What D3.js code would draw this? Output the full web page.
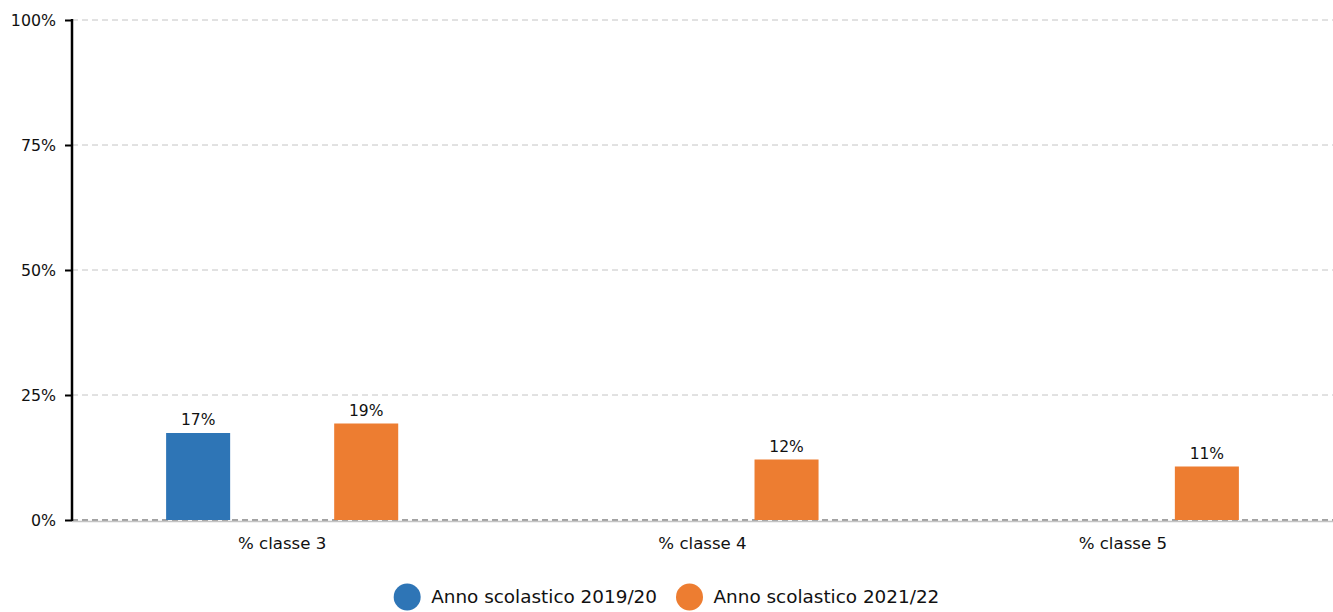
<!DOCTYPE html>
<html>
<head>
<meta charset="utf-8">
<script src="https://cdn.jsdelivr.net/npm/d3@7"></script>
<style>
  body { margin: 0; background: #fff; }
  svg { display: block; font-family: "DejaVu Sans", sans-serif; }
</style>
</head>
<body>
<svg id="chart" width="1333" height="612"></svg>
<script>
// data
let categories = ["% classe 3", "% classe 4", "% classe 5"];
let seriesNames = ["Anno scolastico 2019/20", "Anno scolastico 2021/22"];
let series2019 = [17.4, null, null];
let series2021 = [19.3, 12.1, 10.7];
let yTicks = [0, 25, 50, 75, 100];
let colors = ["#2E75B6", "#ED7D31"];

let width = 1333,
    height = 612,
    margin = {top: 20, right: 0, bottom: 92, left: 72};

let svg = d3.select("#chart");

let x0 = d3.scaleBand()
  .domain(categories)
  .range([margin.left, width - margin.right]);

let x1 = d3.scaleBand()
  .domain(seriesNames)
  .range([0, x0.bandwidth()])
  .paddingInner(0.619)
  .paddingOuter(0.56);

let y = d3.scaleLinear()
  .domain([0, 100])
  .range([height - margin.bottom, margin.top]);

let fmt = v => d3.format(".0f")(v) + "%";
let textColor = "#111";

// gridlines
svg.append("g")
  .selectAll("line")
  .data(yTicks)
  .join("line")
    .attr("x1", margin.left)
    .attr("x2", width - margin.right)
    .attr("y1", d => y(d))
    .attr("y2", d => y(d))
    .attr("stroke", d => d === 0 ? "#444" : "#c4c4c4")
    .attr("stroke-width", 1)
    .attr("stroke-dasharray", "6,4");

// bottom axis line (light)
svg.append("line")
  .attr("x1", margin.left)
  .attr("x2", width - margin.right)
  .attr("y1", y(0) + 1.5)
  .attr("y2", y(0) + 1.5)
  .attr("stroke", "#c4c4c4")
  .attr("stroke-width", 1.5);

// bars
let rows = categories.map((c, i) => ({cat: c, values: [series2019[i], series2021[i]]}));

let groups = svg.append("g")
  .selectAll("g")
  .data(rows)
  .join("g")
    .attr("transform", d => `translate(${x0(d.cat)},0)`);

let cells = groups.selectAll("g")
  .data(d => d.values.map((v, j) => ({name: seriesNames[j], value: v, color: colors[j]})).filter(d => d.value != null))
  .join("g");

cells.append("rect")
  .attr("x", d => x1(d.name))
  .attr("width", x1.bandwidth())
  .attr("y", d => y(d.value))
  .attr("height", d => y(0) - y(d.value))
  .attr("fill", d => d.color);

cells.append("text")
  .attr("x", d => x1(d.name) + x1.bandwidth() / 2)
  .attr("y", d => y(d.value) - 8)
  .attr("text-anchor", "middle")
  .attr("font-size", 15.5)
  .attr("fill", textColor)
  .text(d => fmt(d.value));

// y axis
let yAxis = svg.append("g")
  .attr("transform", `translate(${margin.left},0)`)
  .call(d3.axisLeft(y).tickValues(yTicks).tickSize(7).tickPadding(9).tickFormat(d => d + "%"));
yAxis.select(".domain").remove();
yAxis.selectAll(".tick line").attr("stroke", "#000").attr("stroke-width", 2);
yAxis.selectAll(".tick text")
  .attr("font-family", "DejaVu Sans, sans-serif")
  .attr("font-size", 15.8)
  .attr("fill", textColor);
yAxis.append("line")
  .attr("x1", 0).attr("x2", 0)
  .attr("y1", y(100) - 1).attr("y2", y(0) + 1)
  .attr("stroke", "#000")
  .attr("stroke-width", 2.5);

// x axis labels
let xAxis = svg.append("g")
  .attr("transform", `translate(0,${y(0)})`)
  .call(d3.axisBottom(x0).tickSize(0).tickPadding(17));
xAxis.select(".domain").remove();
xAxis.selectAll(".tick text")
  .attr("font-family", "DejaVu Sans, sans-serif")
  .attr("font-size", 16.6)
  .attr("fill", textColor);

// legend
let legend = svg.append("g");
let items = legend.selectAll("g")
  .data(seriesNames)
  .join("g");
items.append("circle")
  .attr("r", 13.5)
  .attr("cy", 0)
  .attr("fill", (d, i) => colors[i]);
items.append("text")
  .attr("x", 24)
  .attr("y", 0)
  .attr("dy", "0.35em")
  .attr("font-size", 18.4)
  .attr("fill", textColor)
  .text(d => d);

let offset = 0;
let widths = items.nodes().map(n => n.getBBox().width);
let gap = 19;
let total = d3.sum(widths) + gap * (widths.length - 1);
let startX = width / 2 - total / 2 + 13.5;
items.attr("transform", (d, i) => {
  let tx = startX + offset;
  offset += widths[i] + gap;
  return `translate(${tx},597)`;
});
</script>
</body>
</html>
